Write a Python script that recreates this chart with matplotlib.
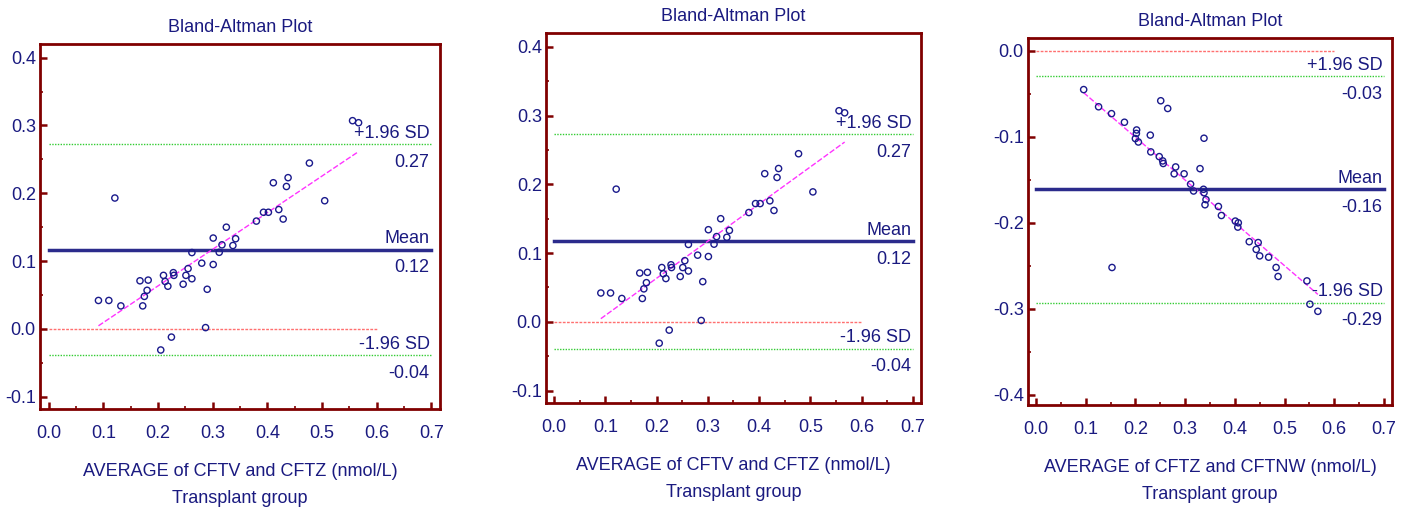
import numpy as np
import matplotlib
matplotlib.use("Agg")
import matplotlib.pyplot as plt
from matplotlib.ticker import MultipleLocator, FormatStrFormatter

plt.rcParams['font.family'] = ['Liberation Sans', 'DejaVu Sans']

# --- CFTV vs CFTZ (panels 1 and 2 show the same data) ---
avg_v_z = [0.556, 0.567, 0.477, 0.438, 0.435, 0.411, 0.505, 0.121, 0.421, 0.429,
           0.393, 0.402, 0.380, 0.325, 0.301, 0.342, 0.317, 0.337, 0.312, 0.262,
           0.280, 0.301, 0.255, 0.251, 0.262, 0.246, 0.228, 0.229, 0.210, 0.213,
           0.218, 0.182, 0.167, 0.180, 0.175, 0.172, 0.091, 0.110, 0.132, 0.290,
           0.287, 0.2245, 0.205]
diff_v_z = [0.307, 0.304, 0.2445, 0.223, 0.210, 0.2155, 0.189, 0.193, 0.176, 0.162,
            0.172, 0.172, 0.159, 0.150, 0.134, 0.133, 0.124, 0.123, 0.113, 0.1126,
            0.097, 0.095, 0.089, 0.079, 0.074, 0.066, 0.083, 0.079, 0.079, 0.070,
            0.063, 0.072, 0.071, 0.057, 0.048, 0.034, 0.042, 0.042, 0.034, 0.0585,
            0.002, -0.012, -0.031]
stats_v_z = [0.2725, 0.117, -0.039]          # +1.96 SD, mean, -1.96 SD
stats_v_z_labels = ["0.27", "0.12", "-0.04"]

# --- CFTZ vs CFTNW ---
avg_z_nw = [0.096, 0.126, 0.152, 0.178, 0.2025, 0.202, 0.200, 0.206, 0.230, 0.251,
            0.265, 0.231, 0.248, 0.255, 0.256, 0.281, 0.278, 0.298, 0.330, 0.338,
            0.311, 0.317, 0.337, 0.338, 0.342, 0.340, 0.367, 0.373, 0.401, 0.407,
            0.406, 0.429, 0.447, 0.443, 0.450, 0.468, 0.483, 0.487, 0.153, 0.545,
            0.551, 0.567]
diff_z_nw = [-0.045, -0.065, -0.073, -0.083, -0.092, -0.096, -0.102, -0.106, -0.098, -0.058,
             -0.067, -0.1175, -0.123, -0.128, -0.131, -0.135, -0.143, -0.143, -0.137, -0.1016,
             -0.155, -0.163, -0.161, -0.165, -0.173, -0.179, -0.181, -0.1915, -0.198, -0.200,
             -0.205, -0.222, -0.223, -0.231, -0.2385, -0.240, -0.252, -0.2625, -0.252, -0.2676,
             -0.2947, -0.303]
stats_z_nw = [-0.029, -0.161, -0.293]
stats_z_nw_labels = ["-0.03", "-0.16", "-0.29"]

xlabels = ["AVERAGE of CFTV and CFTZ (nmol/L)\nTransplant group",
           "AVERAGE of CFTV and CFTZ (nmol/L)\nTransplant group",
           "AVERAGE of CFTZ and CFTNW (nmol/L)\nTransplant group"]

NAVY = '#1a1a80'
FRAME = '#800000'
FS = 13

fig = plt.figure(figsize=(14.08, 5.13), dpi=100)
positions = [[0.0284, 0.2027, 0.2841, 0.7115],
             [0.3878, 0.2144, 0.2663, 0.7212],
             [0.7301, 0.2105, 0.2585, 0.7154]]
ylims = [(-0.118, 0.42), (-0.118, 0.42), (-0.412, 0.015)]
datasets = [(avg_v_z, diff_v_z, stats_v_z, stats_v_z_labels),
            (avg_v_z, diff_v_z, stats_v_z, stats_v_z_labels),
            (avg_z_nw, diff_z_nw, stats_z_nw, stats_z_nw_labels)]


def bland_altman(ax, x, d, stats, labels, xlabel, ylim):
    x = np.array(x)
    d = np.array(d)
    upper, mean, lower = stats

    # zero line, limits and mean
    ax.plot([0, 0.6], [0, 0], color='#ff7070', lw=1.0, ls=(0, (2, 1)))
    ax.plot([0, 0.7], [upper, upper], color='#33cc33', lw=1.0, ls=(0, (1, 1)))
    ax.plot([0, 0.7], [lower, lower], color='#33cc33', lw=1.0, ls=(0, (1, 1)))
    ax.plot([0, 0.7], [mean, mean], color='#2b2b8c', lw=2.5)

    # regression of difference on average
    k, b = np.polyfit(x, d, 1)
    xs = np.array([x.min(), x.max()])
    ax.plot(xs, k * xs + b, color='#ff33ff', lw=1.0, ls=(0, (4, 1.5)))

    ax.scatter(x, d, s=20, facecolors='none', edgecolors='#1a1a8c', linewidths=1.0, zorder=3)

    kw = dict(ha='right', color=NAVY, fontsize=FS, textcoords='offset points')
    for val, name, lab in zip(stats, ["+1.96 SD", "Mean", "-1.96 SD"], labels):
        ax.annotate(name, (0.697, val), xytext=(0, 4.5), va='baseline', **kw)
        ax.annotate(lab, (0.697, val), xytext=(0, -7), va='top', **kw)

    ax.set_xlim(-0.016, 0.716)
    ax.set_ylim(*ylim)
    ax.xaxis.set_major_locator(MultipleLocator(0.1))
    ax.xaxis.set_minor_locator(MultipleLocator(0.05))
    ax.yaxis.set_major_locator(MultipleLocator(0.1))
    ax.yaxis.set_minor_locator(MultipleLocator(0.05))
    ax.xaxis.set_major_formatter(FormatStrFormatter('%.1f'))
    ax.yaxis.set_major_formatter(FormatStrFormatter('%.1f'))
    ax.tick_params(which='both', direction='in', colors=FRAME, labelcolor=NAVY,
                   labelsize=FS, top=False, right=False)
    ax.tick_params(which='major', length=5, width=1.8)
    ax.tick_params(which='minor', length=2.5, width=1.2)
    ax.tick_params(axis='x', which='major', pad=11.5)
    ax.tick_params(axis='y', which='major', pad=3)
    for sp in ax.spines.values():
        sp.set_color(FRAME)
        sp.set_linewidth(2)
    ax.set_title("Bland-Altman Plot", color=NAVY, fontsize=FS, pad=9)
    ax.set_xlabel(xlabel, color=NAVY, fontsize=FS, labelpad=15, linespacing=1.75)


for pos, (x, d, st, lab), xl, yl in zip(positions, datasets, xlabels, ylims):
    ax = fig.add_axes(pos)
    bland_altman(ax, x, d, st, lab, xl, yl)

fig.savefig("out.png", dpi=100)
